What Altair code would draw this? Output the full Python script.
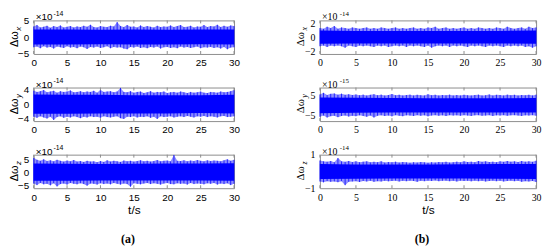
import numpy as np
import pandas as pd
import altair as alt

# x-axis ticks (t/s)
x_ticks = [0, 5, 10, 15, 20, 25, 30]
core_t = [0, 5, 10, 15, 20, 25, 30]

# ---- (a) Δω_x, ×10^-14 : upper / lower envelope every 0.5 s
up_a1 = [3.2,3.6,2.9,3.1,3.4,2.8,3.3,3.0,3.5,2.9,3.1,3.3,2.9,3.2,3.0,3.4,3.1,3.7,3.0,2.9,3.3,3.1,3.0,3.4,3.2,4.5,3.3,3.0,3.6,3.1,3.2,2.9,3.5,3.0,3.3,3.1,2.9,3.4,3.0,3.2,3.1,3.5,3.0,3.3,3.6,3.0,3.1,3.4,2.9,3.2,3.1,3.6,3.0,3.3,3.2,3.7,3.0,3.4,3.1,3.5,3.3]
lo_a1 = [-3.0,-2.8,-3.3,-2.7,-3.1,-2.9,-3.4,-2.8,-3.0,-3.2,-2.7,-3.1,-2.9,-3.3,-2.8,-3.0,-3.5,-2.9,-3.1,-2.8,-3.2,-3.0,-2.7,-3.3,-2.9,-3.1,-3.0,-3.4,-3.6,-2.9,-3.1,-2.8,-3.2,-3.0,-3.3,-2.9,-3.1,-2.8,-3.4,-3.0,-2.9,-3.2,-3.0,-3.3,-2.8,-3.1,-2.9,-3.2,-3.0,-2.8,-3.3,-3.0,-3.1,-2.9,-3.2,-3.0,-3.4,-2.9,-3.6,-3.1,-3.0]
core_hi_a1 = [2.3, 2.3, 2.2, 2.3, 2.2, 2.3, 2.3]
core_lo_a1 = [-2.2, -2.2, -2.1, -2.2, -2.2, -2.1, -2.2]

# ---- (a) Δω_y, ×10^-14
up_a2 = [3.8,3.4,3.6,3.9,3.3,3.5,3.7,3.2,3.6,3.4,3.5,3.8,3.3,3.4,3.6,3.3,3.5,3.4,3.7,3.2,4.0,3.4,3.5,3.6,3.3,3.5,4.5,3.4,3.3,3.6,3.2,3.4,3.5,3.1,3.3,3.6,3.2,3.4,3.3,3.5,3.1,3.3,3.4,3.2,3.5,3.3,3.1,3.4,3.2,3.3,3.5,3.2,3.1,3.4,3.3,3.2,3.5,3.3,3.4,3.6,3.9]
lo_a2 = [-3.4,-3.7,-3.3,-3.6,-3.9,-3.4,-4.3,-3.5,-3.3,-3.7,-3.4,-3.6,-3.3,-3.5,-3.8,-3.4,-3.6,-3.3,-3.5,-3.4,-3.7,-3.3,-3.5,-3.6,-3.4,-3.3,-3.8,-4.0,-3.4,-3.5,-3.3,-3.6,-3.4,-3.5,-3.3,-3.7,-3.4,-4.0,-3.3,-3.5,-3.4,-3.3,-3.6,-3.4,-3.3,-3.5,-3.2,-3.4,-3.6,-3.3,-3.4,-3.2,-3.5,-3.3,-3.4,-3.6,-3.3,-3.2,-3.5,-3.4,-3.3]
core_hi_a2 = [2.7, 2.6, 2.6, 2.5, 2.5, 2.5, 2.6]
core_lo_a2 = [-2.6, -2.6, -2.5, -2.5, -2.5, -2.4, -2.5]

# ---- (a) Δω_z, ×10^-14
up_a3 = [5.8,5.0,4.6,5.2,4.5,4.8,4.4,5.0,4.6,4.3,4.7,4.4,4.9,4.3,4.5,4.2,4.6,4.3,4.4,4.1,4.5,4.2,4.8,4.3,4.6,4.4,4.2,4.7,4.4,4.6,4.3,4.5,4.8,4.4,4.6,4.3,4.5,4.9,4.4,4.6,4.7,4.4,6.9,4.6,4.5,4.8,4.4,4.7,4.5,4.9,4.6,4.4,4.8,4.5,4.7,4.6,4.4,4.8,5.2,4.6,5.0]
lo_a3 = [-4.2,-4.8,-4.0,-4.5,-4.3,-4.9,-4.1,-5.3,-4.4,-4.2,-4.6,-4.0,-4.3,-4.5,-4.1,-4.4,-5.0,-4.2,-4.3,-4.6,-4.1,-4.4,-4.2,-4.5,-4.0,-4.3,-4.6,-4.2,-4.4,-5.4,-4.1,-4.3,-4.5,-4.2,-4.0,-4.4,-4.1,-4.3,-4.6,-4.2,-4.0,-4.4,-4.5,-4.1,-4.3,-4.2,-4.6,-4.0,-4.4,-4.2,-4.3,-4.5,-4.1,-4.3,-4.0,-4.6,-4.2,-4.4,-4.1,-4.8,-4.3]
core_hi_a3 = [3.6, 3.5, 3.4, 3.5, 3.6, 3.6, 3.7]
core_lo_a3 = [-3.1, -3.1, -3.0, -3.0, -3.0, -3.0, -3.1]

# ---- (b) Δω_x, ×10^-14
up_b1 = [1.3,1.2,1.5,1.3,1.6,1.2,1.4,1.3,1.2,1.4,1.3,1.2,1.3,1.4,1.2,1.3,1.2,1.4,1.3,1.2,1.3,1.4,1.2,1.3,1.2,1.3,1.4,1.2,1.3,1.2,1.4,1.3,1.5,1.2,1.3,1.4,1.2,1.3,1.2,1.3,1.4,1.2,1.3,1.2,1.4,1.3,1.2,1.3,1.2,1.4,1.3,1.2,1.5,1.3,1.2,1.3,1.4,1.2,1.5,1.3,1.4]
lo_b1 = [-1.3,-1.2,-1.4,-1.2,-1.3,-1.2,-1.3,-1.5,-1.2,-1.3,-1.4,-1.2,-1.3,-1.2,-1.3,-1.4,-1.2,-1.3,-1.2,-1.4,-1.3,-1.2,-1.3,-1.2,-1.4,-1.2,-1.3,-1.2,-1.3,-1.4,-1.2,-1.5,-1.3,-1.2,-1.3,-1.2,-1.4,-1.2,-1.3,-1.2,-1.3,-1.4,-1.2,-1.3,-1.2,-1.3,-1.4,-1.2,-1.3,-1.2,-1.3,-1.4,-1.2,-1.3,-1.2,-1.3,-1.2,-1.4,-1.3,-1.5,-1.3]
core_hi_b1 = [0.95, 0.9, 0.9, 0.9, 0.9, 0.9, 0.95]
core_lo_b1 = [-0.95, -0.9, -0.9, -0.9, -0.9, -0.9, -0.95]

# ---- (b) Δω_y, ×10^-15
up_b2 = [5.5,6.3,5.2,5.8,6.0,5.4,5.9,5.3,5.6,5.2,5.5,5.1,5.4,5.0,5.3,5.6,5.1,5.4,5.0,5.2,5.7,5.1,5.3,5.0,5.2,5.4,5.0,5.3,5.1,5.0,5.6,5.1,5.3,5.0,5.2,5.1,5.4,5.0,5.2,5.0,5.3,5.1,5.0,5.2,5.4,5.0,5.1,5.5,5.0,5.3,5.2,5.0,5.4,5.1,5.3,5.0,5.2,5.1,5.3,5.0,5.4]
lo_b2 = [-5.8,-5.2,-6.2,-5.5,-5.3,-6.0,-5.4,-5.2,-5.7,-5.3,-5.5,-5.1,-5.4,-5.8,-5.2,-6.2,-5.3,-5.1,-5.4,-5.2,-5.6,-5.0,-5.3,-5.5,-5.1,-5.2,-5.4,-5.0,-5.3,-5.1,-5.6,-5.2,-5.0,-5.3,-5.1,-5.4,-5.0,-5.2,-5.1,-5.3,-5.0,-5.2,-5.4,-5.1,-5.0,-5.3,-5.2,-5.0,-5.4,-5.1,-5.2,-5.0,-5.3,-5.1,-5.0,-5.2,-5.4,-5.1,-5.2,-5.0,-5.3]
core_hi_b2 = [4.0, 3.8, 3.7, 3.6, 3.6, 3.6, 3.7]
core_lo_b2 = [-4.0, -3.8, -3.7, -3.6, -3.6, -3.6, -3.7]

# ---- (b) Δω_z, ×10^-14
up_b3 = [0.65,0.6,0.58,0.62,0.55,0.8,0.6,0.57,0.62,0.56,0.6,0.55,0.58,0.6,0.54,0.57,0.55,0.6,0.53,0.56,0.55,0.58,0.53,0.56,0.54,0.52,0.55,0.53,0.56,0.54,0.52,0.55,0.53,0.56,0.54,0.57,0.53,0.55,0.58,0.54,0.6,0.56,0.58,0.55,0.62,0.57,0.6,0.56,0.58,0.55,0.6,0.57,0.62,0.58,0.6,0.56,0.62,0.58,0.6,0.57,0.64]
lo_b3 = [-0.6,-0.65,-0.58,-0.62,-0.6,-0.64,-0.58,-0.82,-0.62,-0.6,-0.58,-0.63,-0.57,-0.6,-0.56,-0.62,-0.58,-0.6,-0.56,-0.59,-0.57,-0.55,-0.6,-0.56,-0.58,-0.55,-0.57,-0.62,-0.56,-0.58,-0.55,-0.57,-0.54,-0.58,-0.56,-0.55,-0.58,-0.56,-0.6,-0.55,-0.57,-0.56,-0.59,-0.55,-0.58,-0.56,-0.6,-0.57,-0.55,-0.58,-0.56,-0.6,-0.57,-0.55,-0.58,-0.56,-0.62,-0.58,-0.6,-0.57,-0.63]
core_hi_b3 = [0.45, 0.42, 0.42, 0.42, 0.43, 0.44, 0.45]
core_lo_b3 = [-0.45, -0.43, -0.42, -0.42, -0.42, -0.43, -0.45]

BLUE = "#0000ff"
FRAME = "#8c8c8c"
H = 34


def panel(up, lo, chi, clo, domain, yticks, sup, sub, serif, bottom, width, letter):
    font = "Liberation Serif" if serif else "Liberation Sans"
    t = np.linspace(0, 30, len(up))
    df = pd.DataFrame({"t": t, "up": up, "lo": lo})
    cdf = pd.DataFrame({"t": core_t, "up": chi, "lo": clo})
    tdf = pd.DataFrame({"t": x_ticks})
    one = pd.DataFrame({"t": [0]})

    xs = alt.Scale(domain=[0, 30], nice=False, zero=False)
    ys = alt.Scale(domain=domain, nice=False, zero=False)
    xaxis_kw = dict(values=x_ticks, labelFont=font, labelFontSize=10, labelColor="black",
                    ticks=False, domain=False, grid=False, labelPadding=4, labelFlush=False,
                    format="d")
    if bottom:
        xaxis = alt.Axis(title="t/s", titleFont="Liberation Sans", titleFontSize=12,
                         titleFontWeight="normal", titleColor="black", titlePadding=3, **xaxis_kw)
    else:
        xaxis = alt.Axis(title=None, **xaxis_kw)
    yaxis = alt.Axis(values=yticks, labelFont=font, labelFontSize=10, labelColor="black",
                     ticks=False, domain=False, grid=False, labelPadding=5, title=None,
                     format="d")
    X = alt.X("t:Q", scale=xs, axis=xaxis)
    Y = alt.Y("up:Q", scale=ys, axis=yaxis)

    outer = alt.Chart(df).mark_area(color=BLUE, opacity=0.45, interpolate="linear").encode(x=X, y=Y, y2="lo:Q")
    spikes = alt.Chart(df).mark_rule(color=BLUE, opacity=0.75, strokeWidth=1).encode(x=X, y=Y, y2="lo:Q")
    core = alt.Chart(cdf).mark_area(color=BLUE, interpolate="linear").encode(x=X, y=Y, y2="lo:Q")
    tick_top = alt.Chart(tdf).mark_rule(color=FRAME, strokeWidth=1).encode(x=X, y=alt.value(0), y2=alt.value(3))
    tick_bot = alt.Chart(tdf).mark_rule(color=FRAME, strokeWidth=1).encode(x=X, y=alt.value(H - 3), y2=alt.value(H))

    exp_main = alt.Chart(one).mark_text(text="×10", font=font, fontSize=10, align="left",
                                        baseline="middle", color="black").encode(
        x=alt.value(2), y=alt.value(-3))
    exp_sup = alt.Chart(one).mark_text(text=sup, font=font, fontSize=7, align="left",
                                       baseline="middle", color="black").encode(
        x=alt.value(20), y=alt.value(-6.5))
    ttl = alt.Chart(one).mark_text(text="Δω", font=font, fontSize=11, align="center",
                                   baseline="bottom", angle=270, color="black").encode(
        x=alt.value(-14), y=alt.value(H / 2 + 2))
    ttl_sub = alt.Chart(one).mark_text(text=sub, font=font, fontSize=8, fontStyle="italic",
                                       align="center", baseline="bottom", angle=270,
                                       color="black").encode(
        x=alt.value(-11), y=alt.value(H / 2 - 8.5))
    layers = [outer, spikes, core, tick_top, tick_bot, exp_main, exp_sup, ttl, ttl_sub]
    if bottom:
        lab = alt.Chart(one).mark_text(text=letter, font="Liberation Serif", fontSize=12,
                                       fontWeight="bold", align="center", baseline="middle",
                                       color="black").encode(
            x=alt.value(width / 2 - 6), y=alt.value(H + 52))
        layers.append(lab)
    return alt.layer(*layers).properties(width=width, height=H)


WL, WR = 203, 219
panels = [
    panel(up_a1, lo_a1, core_hi_a1, core_lo_a1, [-5, 5], [-5, 0, 5], "-14", "x", False, False, WL, "(a)"),
    panel(up_b1, lo_b1, core_hi_b1, core_lo_b1, [-2.4, 2.4], [-2, 0, 2], "-14", "x", True, False, WR, "(b)"),
    panel(up_a2, lo_a2, core_hi_a2, core_lo_a2, [-4.6, 4.6], [-4, 0, 4], "-14", "y", False, False, WL, "(a)"),
    panel(up_b2, lo_b2, core_hi_b2, core_lo_b2, [-8, 9], [-5, 0, 5], "-15", "y", True, False, WR, "(b)"),
    panel(up_a3, lo_a3, core_hi_a3, core_lo_a3, [-6, 7], [-5, 0, 5], "-14", "z", False, True, WL, "(a)"),
    panel(up_b3, lo_b3, core_hi_b3, core_lo_b3, [-1, 1], [-1, 0, 1], "-14", "z", True, True, WR, "(b)"),
]

chart = alt.concat(*panels, columns=2, spacing={"row": 34, "column": 87},
                   bounds="flush", align="each").properties(
    padding={"left": 0, "top": 0, "right": 0, "bottom": 0}
).configure_view(stroke=FRAME, strokeWidth=1)

chart.save("out.html", embed_options={"renderer": "svg", "actions": False})
